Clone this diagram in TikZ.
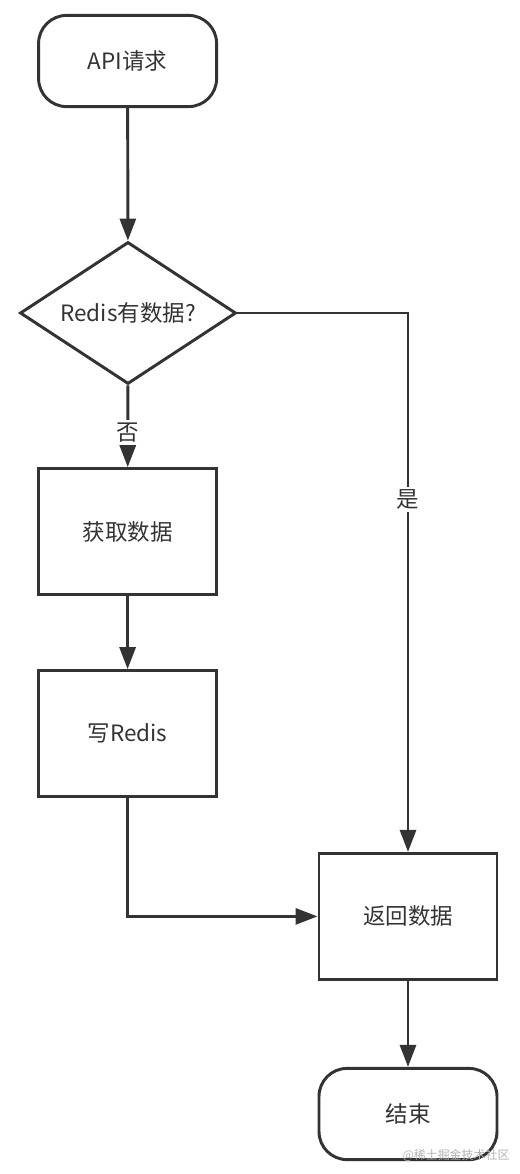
\documentclass[tikz,border=0pt]{standalone}
\usepackage{fontspec}
\setmainfont{Noto Sans CJK SC}
\usepackage{tikz}
\usetikzlibrary{shapes.geometric, arrows.meta}
\definecolor{ink}{HTML}{333333}

\begin{document}
\begin{tikzpicture}[>={Triangle[length=0.55cm,width=0.4cm]},
  every node/.style={font=\fontsize{16}{19}\selectfont, text=ink},
  flow/.style={draw=ink, line width=2.1pt},
  terminal/.style={flow, rounded corners=0.7cm, minimum width=4.45cm, minimum height=2.28cm},
  procbox/.style={flow, minimum width=4.45cm, minimum height=3.15cm},
  decision/.style={flow, diamond, aspect=1.52, inner sep=0pt, minimum width=5.4cm, minimum height=3.55cm},
  link/.style={draw=ink, line width=2.1pt, ->}]
  \useasboundingbox (0,0) rectangle (13,-29.35);
  \node[terminal] (api) at (3.19,-1.525) {API请求};
  \node[decision] (check) at (3.2,-7.825) {Redis有数据?};
  \node[procbox] (fetch) at (3.19,-13.29) {获取数据};
  \node[procbox] (write) at (3.19,-18.34) {写Redis};
  \node[procbox] (ret) at (10.2,-22.91) {返回数据};
  \node[terminal] (stop) at (10.2,-27.85) {结束};
  \draw[link] (api) -- (check);
  \draw[link] (check) -- node[pos=0.58, fill=white, inner sep=2pt]{否} (fetch);
  \draw[link] (check.east) -| node[pos=0.673, fill=white, inner sep=2pt]{是} (ret.north);
  \draw[link] (fetch) -- (write);
  \draw[link] (write.south) |- (ret.west);
  \draw[link] (ret) -- (stop);
  \node[font=\fontsize{8.5}{10}\selectfont, text=black!30] (mark) at (11.4,-28.88) {@稀土掘金技术社区};
\end{tikzpicture}
\end{document}
